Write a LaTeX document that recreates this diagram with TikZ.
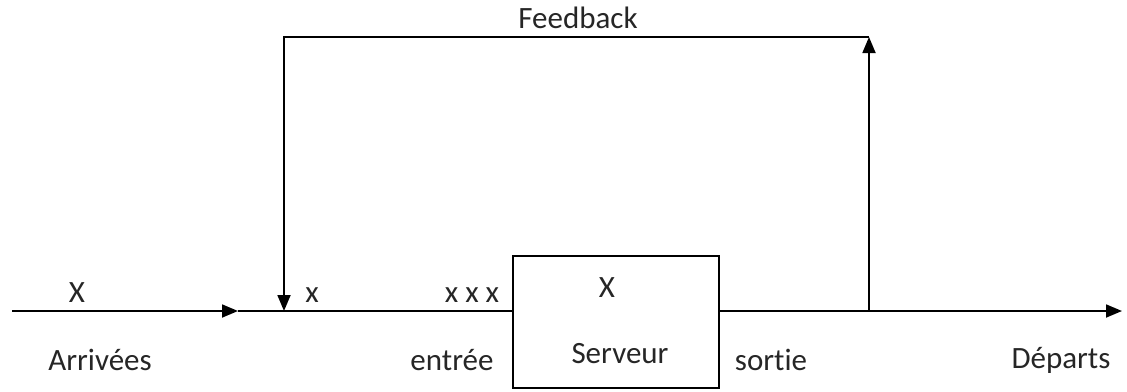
\documentclass[tikz,border=0pt]{standalone}
\usepackage{fontspec}
\setmainfont[Ligatures=NoCommon]{Carlito}
\usetikzlibrary{arrows.meta}
\begin{document}
\begin{tikzpicture}[x=1pt,y=-1pt,
  wire/.style={line width=1.8pt,black},
  tip/.style={-{Triangle[length=16pt,width=13pt]}},
  lbl/.style={font=\fontsize{31}{36}\selectfont,inner sep=0pt,text=black!85}]
\useasboundingbox (0,0) rectangle (1127,391);
% server box
\node[draw,line width=1.8pt,minimum width=206pt,minimum height=132pt,inner sep=0pt] (srv) at (616,322) {};
% points on the main line
\coordinate (start) at (12,311);
\coordinate (arr) at (238,311);
\coordinate (join) at (284,311);
\coordinate (split) at (869,311);
\coordinate (end) at (1122,311);
\coordinate (tl) at (284,37);
\coordinate (tr) at (869,37);
% main flow
\draw[wire,tip] (start) -- (arr);
\draw[wire] (arr) -- (srv.west |- arr);
\draw[wire,tip] (srv.east |- split) -- (end);
% feedback loop
\draw[wire,tip] (split) -- (tr);
\draw[wire,tip] (tr) -- (tl) -- (join);
% labels
\node[lbl] (xin) at (77,293) {X};
\node[lbl] (arrivees) at (100,360) {Arrivées};
\node[lbl] (xq) at (312,295) {x};
\node[lbl] (xxx) at (472,295) {x x x};
\node[lbl] (entree) at (452,360) {entrée};
\node[lbl] (xs) at (607,288) {X};
\node[lbl] (serveur) at (620,354) {Serveur};
\node[lbl] (sortie) at (771,360) {sortie};
\node[lbl] (departs) at (1061,360) {Départs};
\node[lbl] (fb) at (578,18) {Feedback};
\end{tikzpicture}
\end{document}
